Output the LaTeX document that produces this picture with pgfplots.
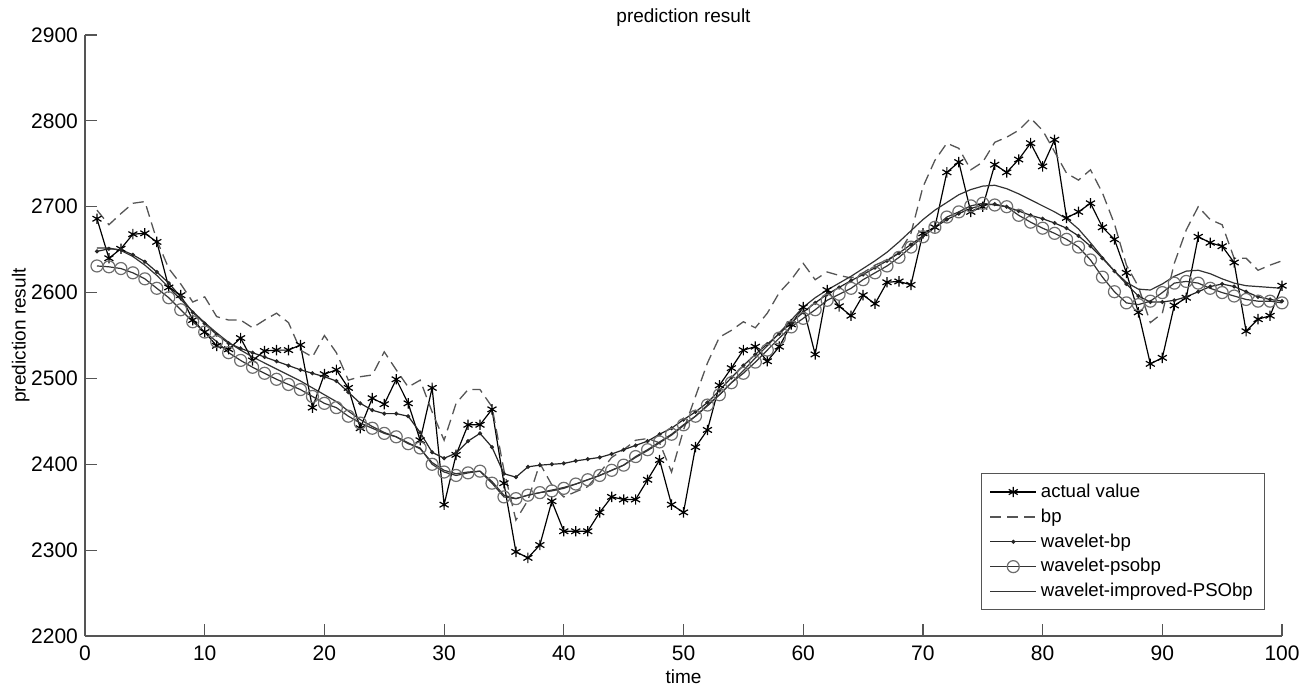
\documentclass[border=0pt]{standalone}
\usepackage{fontspec}
\setmainfont{Liberation Sans}
\usepackage{pgfplots}
\usepackage{pgfplotstable}
\pgfplotsset{compat=1.18}
\definecolor{axgray}{HTML}{555555}
\definecolor{circgray}{HTML}{6E6E6E}

% t, actual value, bp, wavelet-bp, wavelet-psobp, wavelet-improved-PSObp
\pgfplotstableread{
t actual bp wbp wpso wimp
1 2686 2696 2648 2631 2652
2 2640 2679 2651 2630 2652
3 2651 2692 2650 2628 2649
4 2668 2704 2644 2623 2642
5 2669 2706 2636 2616 2632
6 2659 2661 2624 2605 2620
7 2606 2628 2611 2594 2606
8 2597 2610 2595 2580 2592
9 2568 2589 2577 2566 2578
10 2554 2595 2564 2554 2565
11 2538 2572 2551 2543 2553
12 2534 2568 2541 2530 2542
13 2547 2568 2535 2521 2533
14 2521 2559 2530 2513 2525
15 2532 2568 2525 2506 2518
16 2533 2576 2520 2499 2511
17 2533 2565 2515 2493 2504
18 2539 2533 2510 2487 2497
19 2466 2525 2506 2479 2489
20 2505 2550 2502 2471 2481
21 2510 2530 2497 2466 2473
22 2489 2498 2484 2456 2462
23 2442 2502 2471 2448 2452
24 2477 2504 2463 2442 2444
25 2470 2531 2459 2436 2437
26 2499 2510 2459 2432 2432
27 2471 2490 2456 2424 2425
28 2428 2498 2437 2419 2418
29 2489 2461 2414 2400 2402
30 2353 2428 2407 2391 2393
31 2411 2471 2413 2387 2389
32 2446 2487 2427 2390 2391
33 2446 2487 2436 2392 2392
34 2464 2467 2420 2378 2380
35 2378 2393 2389 2362 2364
36 2298 2335 2385 2360 2360
37 2291 2358 2397 2364 2364
38 2306 2401 2399 2367 2367
39 2357 2376 2400 2369 2370
40 2322 2362 2401 2372 2373
41 2322 2368 2404 2377 2377
42 2322 2374 2406 2382 2382
43 2344 2390 2408 2387 2387
44 2362 2408 2412 2393 2393
45 2359 2417 2417 2399 2399
46 2359 2428 2422 2409 2408
47 2382 2430 2427 2417 2416
48 2405 2425 2435 2426 2425
49 2353 2391 2442 2435 2434
50 2344 2440 2452 2446 2445
51 2420 2479 2461 2456 2456
52 2440 2518 2472 2469 2468
53 2492 2548 2486 2481 2481
54 2512 2556 2501 2495 2495
55 2533 2566 2515 2506 2509
56 2537 2559 2528 2519 2524
57 2520 2576 2540 2533 2538
58 2537 2600 2552 2547 2553
59 2563 2615 2565 2560 2568
60 2583 2634 2577 2570 2583
61 2528 2615 2588 2580 2594
62 2603 2624 2598 2591 2603
63 2584 2620 2606 2598 2611
64 2573 2617 2614 2605 2619
65 2597 2623 2621 2615 2628
66 2587 2632 2629 2623 2637
67 2612 2638 2637 2631 2647
68 2613 2646 2646 2641 2659
69 2609 2669 2656 2653 2672
70 2669 2723 2666 2665 2685
71 2676 2754 2676 2676 2696
72 2740 2774 2685 2688 2705
73 2752 2768 2692 2694 2714
74 2694 2743 2698 2701 2720
75 2700 2752 2702 2704 2724
76 2749 2775 2703 2702 2725
77 2740 2781 2700 2700 2721
78 2755 2789 2695 2690 2715
79 2774 2803 2690 2682 2708
80 2747 2789 2686 2675 2701
81 2778 2764 2681 2669 2694
82 2687 2739 2675 2662 2686
83 2694 2731 2666 2653 2674
84 2704 2743 2654 2638 2658
85 2676 2716 2640 2618 2641
86 2662 2680 2625 2601 2625
87 2623 2632 2610 2588 2612
88 2577 2607 2596 2586 2604
89 2517 2565 2589 2590 2603
90 2524 2576 2589 2600 2610
91 2585 2634 2591 2611 2619
92 2594 2673 2595 2613 2625
93 2665 2700 2601 2611 2626
94 2658 2685 2607 2605 2622
95 2654 2679 2610 2600 2616
96 2635 2640 2607 2596 2611
97 2555 2640 2601 2592 2608
98 2569 2626 2595 2590 2607
99 2573 2632 2592 2590 2606
100 2608 2637 2590 2588 2605
}\predtable

\begin{document}
\begin{tikzpicture}
\begin{axis}[
  at={(0pt,0pt)}, anchor=origin,
  scale only axis, width=598.5pt, height=300.5pt,
  xmin=0, xmax=100, ymin=2200, ymax=2900,
  xtick={0,10,...,100}, ytick={2200,2300,...,2900},
  axis lines=left, axis line style={-, axgray, line width=0.8pt},
  tick align=inside, major tick length=6pt,
  tick style={axgray, line width=0.6pt},
  /pgf/number format/assume math mode=true,
  /pgf/number format/1000 sep={},
  tick label style={font=\fontsize{10.5}{12}\selectfont},
  xticklabel style={yshift=-1.5pt},
  title={prediction result},
  title style={font=\fontsize{9.5}{11}\selectfont, yshift=-5pt},
  xlabel={time}, ylabel={prediction result},
  label style={font=\fontsize{9.5}{11}\selectfont},
  xlabel style={yshift=2.5pt},
  ylabel style={yshift=-6pt},
  legend style={at={(0.986,0.043)}, anchor=south east, draw=axgray,
    font=\fontsize{9.3}{11}\selectfont, row sep=0.2pt,
    inner xsep=4pt, inner ysep=3pt},
  legend cell align=left,
  legend image code/.code={\draw[mark repeat=2, mark phase=2, #1]
    plot coordinates {(0pt,0pt) (11.5pt,0pt) (23pt,0pt)};},
]
\addplot[black, line width=0.6pt, mark=asterisk, mark size=2.6pt,
  mark options={line width=0.6pt}] table[x=t, y=actual] {\predtable};
\addlegendentry{actual value}
\addplot[axgray, line width=0.65pt, dash pattern=on 5.5pt off 3pt] table[x=t, y=bp] {\predtable};
\addlegendentry{bp}
\addplot[black!85, line width=0.6pt, mark=*, mark size=0.7pt] table[x=t, y=wbp] {\predtable};
\addlegendentry{wavelet-bp}
\addplot[black!80, line width=0.6pt, mark=o, mark size=3pt,
  mark options={circgray, line width=0.6pt}] table[x=t, y=wpso] {\predtable};
\addlegendentry{wavelet-psobp}
\addplot[black!80, line width=0.6pt] table[x=t, y=wimp] {\predtable};
\addlegendentry{wavelet-improved-PSObp}
\end{axis}
\pgfresetboundingbox
\path[use as bounding box] (-42.5pt,-25pt) rectangle (612pt,318pt);
\end{tikzpicture}
\end{document}
